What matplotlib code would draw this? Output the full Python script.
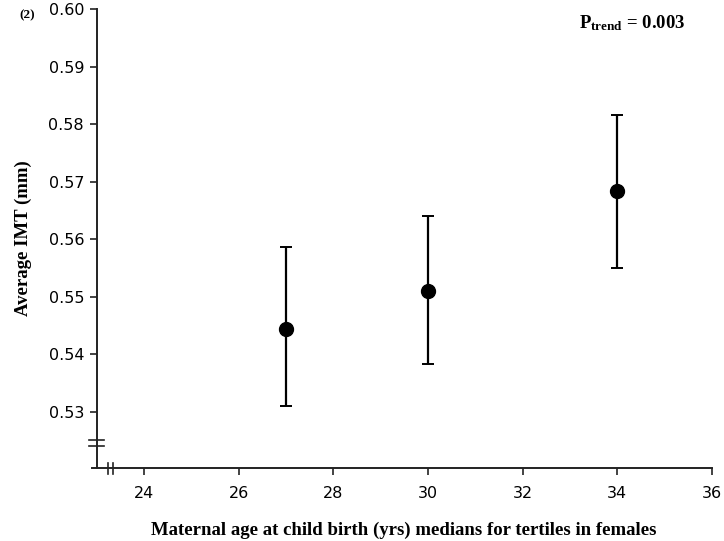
import matplotlib
matplotlib.use("Agg")
import matplotlib.pyplot as plt
import numpy as np

# Data
ages = [27, 30, 34]
imt_mean = [0.5444, 0.5510, 0.5683]
imt_lower = [0.5310, 0.5382, 0.5550]
imt_upper = [0.5586, 0.5640, 0.5815]
x_ticks = [24, 26, 28, 30, 32, 34, 36]
y_ticks = [0.53, 0.54, 0.55, 0.56, 0.57, 0.58, 0.59, 0.60]

plt.rcParams['mathtext.fontset'] = 'custom'
plt.rcParams['mathtext.rm'] = 'Liberation Serif:bold'
plt.rcParams['mathtext.bf'] = 'Liberation Serif:bold'
plt.rcParams['mathtext.it'] = 'Liberation Serif:bold'

fig = plt.figure(figsize=(7.24, 5.41), dpi=100)
ax = fig.add_axes([0.1333, 0.1349, 0.8500, 0.8485])

mean = np.array(imt_mean)
yerr = np.vstack([mean - np.array(imt_lower), np.array(imt_upper) - mean])
ax.errorbar(ages, imt_mean, yerr=yerr, fmt='o', color='black', ecolor='black',
            markersize=10, elinewidth=1.6, capsize=4.5, capthick=1.4)

ax.set_xlim(23, 36)
ax.set_ylim(0.5202, 0.600)
ax.set_xticks(x_ticks)
ax.set_xticklabels([str(t) for t in x_ticks])
ax.set_yticks(y_ticks)
ax.set_yticklabels([f"{t:.2f}" for t in y_ticks])

for s in ['top', 'right']:
    ax.spines[s].set_visible(False)
for s in ['left', 'bottom']:
    ax.spines[s].set_linewidth(1.4)
    ax.spines[s].set_color('#222222')
ax.tick_params(axis='both', direction='out', length=5, width=1.2, colors='#222222',
               labelsize=11.5, labelcolor='black')
ax.tick_params(axis='x', pad=8)
ax.tick_params(axis='y', pad=4)

# axis break marks
tr = ax.transAxes
yb = 0.055
for dy in (-0.006, 0.006):
    ax.plot([-0.012, 0.012], [yb + dy, yb + dy], transform=tr, color='#222222', lw=1.2, clip_on=False)
xb = 0.023
for dx in (-0.004, 0.004):
    ax.plot([xb + dx, xb + dx], [-0.012, 0.012], transform=tr, color='#222222', lw=1.2, clip_on=False)
ax.plot([-0.008, 0], [0, 0], transform=tr, color='#222222', lw=1.4, clip_on=False)

serif = ['Liberation Serif', 'DejaVu Serif']
ax.set_xlabel('Maternal age at child birth (yrs) medians for tertiles in females',
              family=serif, fontweight='bold', fontsize=13.5, labelpad=15)
ax.set_ylabel('Average IMT (mm)', family=serif, fontweight='bold', fontsize=13.5, labelpad=12)

fig.text(0.027, 0.972, '(2)', family=serif, fontweight='bold', fontsize=9.5, ha='left', va='center')
fig.text(0.80, 0.958, r'$\mathbf{P}_{\mathbf{trend}}$' + ' = 0.003', family=serif,
         fontweight='bold', fontsize=13.5, ha='left', va='center')

fig.savefig('out.png', dpi=100)
